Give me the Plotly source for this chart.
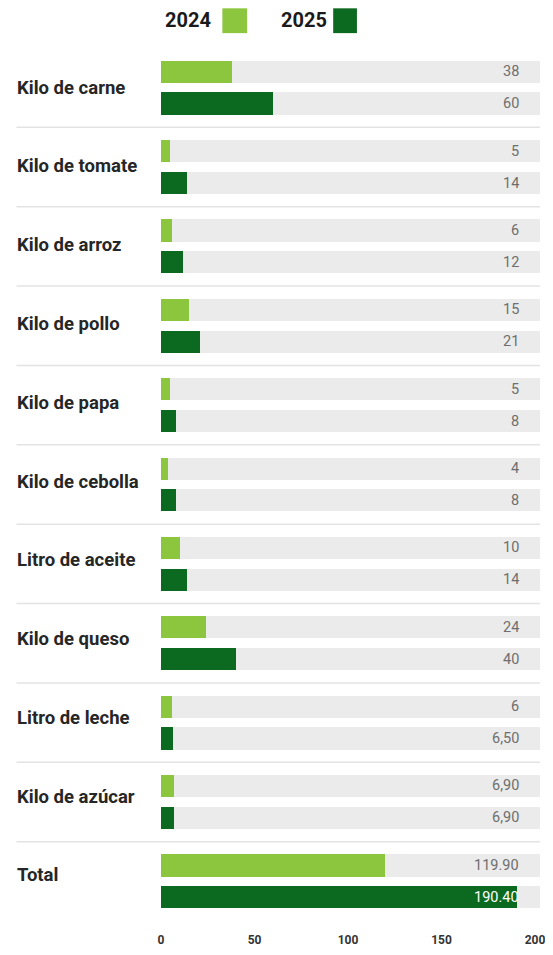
import plotly.graph_objects as go

categories = ["Kilo de carne", "Kilo de tomate", "Kilo de arroz", "Kilo de pollo",
              "Kilo de papa", "Kilo de cebolla", "Litro de aceite", "Kilo de queso",
              "Litro de leche", "Kilo de azúcar", "Total"]
values_2024 = [38, 5, 6, 15, 5, 4, 10, 24, 6, 6.9, 119.9]
values_2025 = [60, 14, 12, 21, 8, 8, 14, 40, 6.5, 6.9, 190.4]
labels_2024 = ["38", "5", "6", "15", "5", "4", "10", "24", "6", "6,90", "119.90"]
labels_2025 = ["60", "14", "12", "21", "8", "8", "14", "40", "6,50", "6,90", "190.40"]
series_names = ["2024", "2025"]
x_ticks = [0, 50, 100, 150, 200]

C_LIGHT = "#8cc63f"
C_DARK = "#0b6a1f"
C_BG = "#ebebeb"
C_SEP = "#e3e3e3"
BG_MAX = 202.5
W = 0.28
OFF = [-0.2 - W / 2, 0.2 - W / 2]

# page geometry (body margin of 8px in the page)
PAGE_OFF = 8
FIG_W, FIG_H = 537, 939
ML, MR, MT, MB = 153, 0, 40, 19
PW = FIG_W - ML - MR
PH = FIG_H - MT - MB
X_MAX = PW / 1.89


def px(page_x):
    return (page_x - PAGE_OFF - ML) / PW


def py(page_y):
    return (FIG_H - MB - (page_y - PAGE_OFF)) / PH


fig = go.Figure()
for k in range(2):
    fig.add_trace(go.Bar(
        y=categories, x=[BG_MAX] * len(categories), orientation="h",
        marker=dict(color=C_BG, line=dict(width=0)), width=W, offset=OFF[k],
        hoverinfo="skip", showlegend=False))
for k, (vals, col) in enumerate([(values_2024, C_LIGHT), (values_2025, C_DARK)]):
    fig.add_trace(go.Bar(
        y=categories, x=vals, orientation="h", name=series_names[k],
        marker=dict(color=col, line=dict(width=0)), width=W, offset=OFF[k],
        showlegend=False))

annotations = []
shapes = []
FONT = "Roboto"
for i, cat in enumerate(categories):
    annotations.append(dict(
        x=px(13), xref="paper", y=cat, yref="y", text="<b>%s</b>" % cat,
        xanchor="left", yanchor="middle", showarrow=False, yshift=0.6 * i,
        font=dict(family=FONT, size=18.5, color="#262626")))
    for k, (vals, labs) in enumerate([(values_2024, labels_2024), (values_2025, labels_2025)]):
        col = "#ffffff" if vals[i] > 185 else "#6e6e6e"
        annotations.append(dict(
            x=192.3, xref="x", y=cat, yref="y", yshift=-32 * (k - 0.5),
            text=labs[i], xanchor="right", yanchor="middle", showarrow=False,
            font=dict(family=FONT, size=14.5, color=col)))
    if i < len(categories) - 1:
        shapes.append(dict(
            type="line", xref="paper", x0=px(15), x1=px(544), yref="y",
            y0=i + 0.5, y1=i + 0.5, line=dict(color=C_SEP, width=1.5), layer="below"))

# legend
leg = [("2024", C_LIGHT, 163, 223, 248), ("2025", C_DARK, 280, 335, 359)]
for name, col, tx, sx0, sx1 in leg:
    annotations.append(dict(
        x=px(tx), xref="paper", y=py(20), yref="paper", text="<b>%s</b>" % name,
        xanchor="left", yanchor="middle", showarrow=False,
        font=dict(family=FONT, size=20, color="#1a1a1a")))
    shapes.append(dict(
        type="rect", xref="paper", yref="paper", x0=px(sx0), x1=px(sx1),
        y0=py(33), y1=py(8), fillcolor=col, line=dict(width=0)))

fig.update_layout(
    width=FIG_W, height=FIG_H,
    margin=dict(l=ML, r=MR, t=MT, b=MB),
    paper_bgcolor="white", plot_bgcolor="white",
    barmode="overlay", bargap=0,
    showlegend=False,
    xaxis=dict(range=[0, X_MAX], tickvals=x_ticks, ticktext=["<b>%d</b>" % t for t in x_ticks],
               showgrid=False, zeroline=False, showline=False, ticks="",
               ticklabeloverflow="allow",
               tickfont=dict(family=FONT, size=12, color="#333333"), ticklabelstandoff=10),
    yaxis=dict(categoryorder="array", categoryarray=categories,
               showticklabels=False, showgrid=False, zeroline=False, ticks="",
               range=[len(categories) - 0.5, -0.5]),
    annotations=annotations, shapes=shapes,
)
fig.write_html("out.html")
